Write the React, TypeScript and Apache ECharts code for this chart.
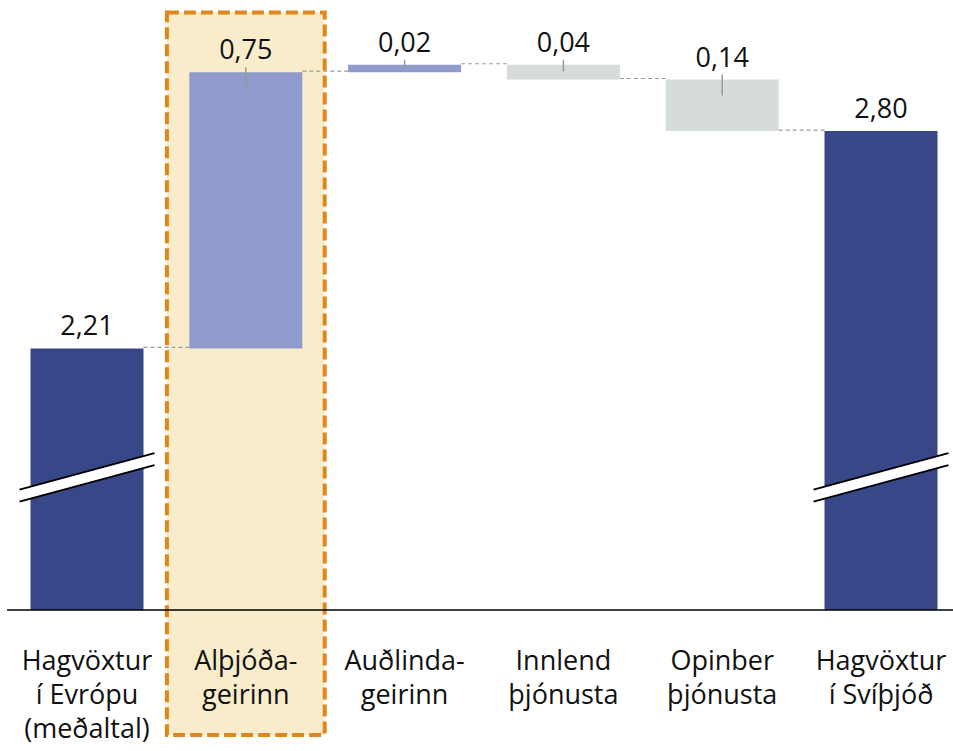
import React, { useEffect, useRef } from "react";
import * as echarts from "echarts";

const categories = [
  "Hagvöxtur\ní Evrópu\n(meðaltal)",
  "Alþjóða-\ngeirinn",
  "Auðlinda-\ngeirinn",
  "Innlend\nþjónusta",
  "Opinber\nþjónusta",
  "Hagvöxtur\ní Svíþjóð",
];
// change values (totals for first and last)
const values = [2.21, 0.75, 0.02, -0.04, -0.14, 2.8];
const kinds = ["total", "up", "up", "down", "down", "total"];
const highlightIndex = 1;
const breakValue = 1.86;
const breakIndices = [0, 5];

const Y_MIN = 1.5;
const Y_MAX = 3.0;
const BAR_W = 113;
const FONT = "'Open Sans', 'Noto Sans', sans-serif";

const COLORS: Record<string, string> = {
  total: "#384788",
  up: "#8F9BCD",
  down: "#D5DCDB",
};

const fmt = (v: number) => Math.abs(v).toFixed(2).replace(".", ",");

export default function App() {
  const ref = useRef<HTMLDivElement>(null);

  useEffect(() => {
    document.body.style.margin = "0";
    if (!ref.current) return;
    const chart = echarts.init(ref.current, undefined, { renderer: "svg" });

    // waterfall computation
    const bases: number[] = [];
    const heights: number[] = [];
    const levels: number[] = []; // running total after each bar
    let run = 0;
    values.forEach((v, i) => {
      if (kinds[i] === "total") {
        bases.push(0);
        heights.push(v);
        run = v;
      } else if (v >= 0) {
        bases.push(run);
        heights.push(v);
        run = run + v;
      } else {
        bases.push(run + v);
        heights.push(-v);
        run = run + v;
      }
      levels.push(run);
    });

    const connectorData = levels.slice(0, -1).map((l, i) => [i, l]);
    const leaderData = values
      .map((v, i) => ({ i, v }))
      .filter((d) => kinds[d.i] !== "total")
      .map((d) => [d.i, bases[d.i] + heights[d.i], heights[d.i]]);

    const option: any = {
      animation: false,
      grid: { left: 7.6, top: 57.4, width: 952.8, bottom: 141 },
      xAxis: {
        type: "category",
        data: categories,
        axisLine: { lineStyle: { color: "#000", width: 1.5 } },
        axisTick: { show: false },
        axisLabel: {
          interval: 0,
          fontSize: 27,
          lineHeight: 34,
          margin: 32,
          color: "#111",
          fontFamily: FONT,
        },
        z: 5,
      },
      yAxis: {
        type: "value",
        min: Y_MIN,
        max: Y_MAX,
        show: false,
        splitLine: { show: false },
      },
      series: [
        {
          type: "custom",
          z: 0,
          silent: true,
          data: [[highlightIndex]],
          renderItem: (params: any, api: any) => {
            const c = api.coord([api.value(0), Y_MAX]);
            const band = api.size([1, 0])[0];
            const cs = params.coordSys;
            const top = cs.y - 45;
            const bottom = cs.y + cs.height + 125;
            return {
              type: "rect",
              shape: { x: c[0] - band / 2 + 0.5, y: top, width: band - 1, height: bottom - top },
              style: {
                fill: "#F8ECCB",
                stroke: "#E0861B",
                lineWidth: 4,
                lineDash: [12, 5],
              },
            };
          },
        },
        {
          type: "bar",
          stack: "w",
          barWidth: BAR_W,
          z: 2,
          silent: true,
          itemStyle: { color: "transparent" },
          data: bases,
        },
        {
          type: "bar",
          stack: "w",
          barWidth: BAR_W,
          z: 2,
          data: heights.map((h, i) => ({
            value: h,
            itemStyle: { color: COLORS[kinds[i]] },
          })),
          label: {
            show: true,
            position: "top",
            distance: 10,
            fontSize: 27,
            fontFamily: FONT,
            color: "#111",
            formatter: (p: any) => fmt(values[p.dataIndex]),
          },
        },
        {
          type: "custom",
          z: 3,
          silent: true,
          data: connectorData,
          renderItem: (params: any, api: any) => {
            const i = api.value(0);
            const a = api.coord([i, api.value(1)]);
            const b = api.coord([i + 1, api.value(1)]);
            return {
              type: "line",
              shape: { x1: a[0] + BAR_W / 2, y1: a[1] - 1, x2: b[0] - BAR_W / 2, y2: b[1] - 1 },
              style: { stroke: "#9A9A9A", lineWidth: 1.2, lineDash: [4, 3] },
            };
          },
        },
        {
          type: "custom",
          z: 4,
          silent: true,
          data: leaderData,
          renderItem: (params: any, api: any) => {
            const p = api.coord([api.value(0), api.value(1)]);
            const hPx = api.size([0, api.value(2)])[1];
            const down = Math.min(16, hPx * 0.45);
            return {
              type: "line",
              shape: { x1: p[0], y1: p[1] - 5, x2: p[0], y2: p[1] + down },
              style: { stroke: "#9A9A9A", lineWidth: 1.5 },
            };
          },
        },
        {
          type: "custom",
          z: 6,
          silent: true,
          data: breakIndices.map((i) => [i, breakValue]),
          renderItem: (params: any, api: any) => {
            const c = api.coord([api.value(0), api.value(1)]);
            const half = BAR_W / 2 + 11;
            const slope = 0.27;
            const gap = 12;
            const x1 = c[0] - half;
            const x2 = c[0] + half;
            const yT1 = c[1] - gap / 2 + slope * half;
            const yT2 = c[1] - gap / 2 - slope * half;
            return {
              type: "group",
              children: [
                {
                  type: "polygon",
                  shape: {
                    points: [
                      [x1, yT1],
                      [x2, yT2],
                      [x2, yT2 + gap],
                      [x1, yT1 + gap],
                    ],
                  },
                  style: { fill: "#fff" },
                },
                {
                  type: "line",
                  shape: { x1, y1: yT1, x2, y2: yT2 },
                  style: { stroke: "#000", lineWidth: 2 },
                },
                {
                  type: "line",
                  shape: { x1, y1: yT1 + gap, x2, y2: yT2 + gap },
                  style: { stroke: "#000", lineWidth: 2 },
                },
              ],
            };
          },
        },
      ],
    };

    chart.setOption(option);
    return () => chart.dispose();
  }, []);

  return (
    <div style={{ width: 953, height: 751, overflow: "hidden", position: "relative" }}>
      <div ref={ref} style={{ width: 970, height: 751 }} />
    </div>
  );
}
